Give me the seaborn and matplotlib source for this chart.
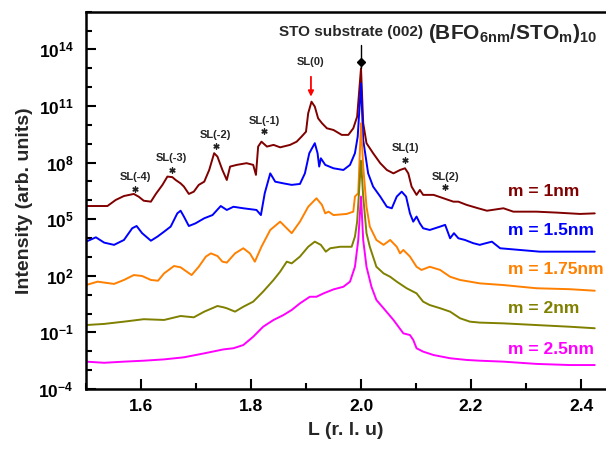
import numpy as np
import pandas as pd
import matplotlib
matplotlib.use("Agg")
import matplotlib.pyplot as plt
from matplotlib.ticker import FixedLocator, NullFormatter
import seaborn as sns

# ---------------- data (L in r.l.u., log10 intensity) ----------------
L_m1 = [1.502, 1.539, 1.554, 1.569, 1.587, 1.596, 1.605, 1.618, 1.627, 1.639, 1.648, 1.657, 1.663,
        1.672, 1.678, 1.687, 1.696, 1.705, 1.715, 1.724, 1.733, 1.739, 1.748, 1.756, 1.762, 1.774,
        1.792, 1.804, 1.809, 1.813, 1.819, 1.829, 1.841, 1.853, 1.871, 1.883, 1.892, 1.900, 1.904,
        1.910, 1.916, 1.922, 1.929, 1.938, 1.950, 1.965, 1.977, 1.986, 1.993, 2.000, 2.004, 2.010,
        2.022, 2.035, 2.047, 2.059, 2.071, 2.080, 2.086, 2.092, 2.101, 2.107, 2.113, 2.132, 2.150,
        2.168, 2.177, 2.192, 2.213, 2.229, 2.259, 2.277, 2.319, 2.356, 2.398, 2.425]
logI_m1 = [5.70, 5.70, 6.02, 6.23, 6.34, 6.19, 5.98, 5.93, 6.34, 6.82, 7.26, 7.23, 7.08,
           6.90, 6.73, 6.34, 6.46, 6.82, 6.99, 7.61, 8.50, 8.32, 7.61, 7.08, 7.79, 7.88,
           7.97, 7.88, 7.35, 8.85, 9.11, 8.85, 8.94, 8.81, 8.94, 9.11, 9.38, 9.64, 10.62,
           11.23, 10.97, 10.35, 10.09, 9.82, 9.73, 9.47, 9.47, 9.82, 10.44, 13.00, 10.09, 9.03,
           8.50, 7.97, 7.61, 7.43, 7.61, 7.70, 7.43, 6.73, 6.29, 6.55, 6.29, 6.29, 6.11,
           5.93, 5.93, 5.76, 5.58, 5.45, 5.58, 5.40, 5.40, 5.35, 5.28, 5.31]

L_m15 = [1.500, 1.518, 1.533, 1.551, 1.569, 1.584, 1.592, 1.602, 1.618, 1.630, 1.642, 1.654, 1.666,
         1.672, 1.678, 1.687, 1.699, 1.715, 1.730, 1.745, 1.756, 1.768, 1.786, 1.810, 1.818, 1.825,
         1.835, 1.844, 1.859, 1.874, 1.889, 1.898, 1.906, 1.916, 1.921, 1.924, 1.927, 1.935, 1.950,
         1.968, 1.980, 1.989, 1.994, 2.000, 2.004, 2.013, 2.022, 2.035, 2.047, 2.056, 2.065, 2.074,
         2.082, 2.089, 2.095, 2.101, 2.107, 2.113, 2.125, 2.144, 2.153, 2.162, 2.169, 2.177, 2.189,
         2.204, 2.216, 2.222, 2.238, 2.253, 2.289, 2.325, 2.380, 2.425]
logI_m15 = [3.81, 4.04, 3.76, 3.64, 3.90, 4.52, 4.64, 4.26, 3.86, 4.08, 4.34, 4.61, 5.31,
            5.45, 5.14, 4.64, 4.78, 5.05, 5.22, 5.70, 5.49, 5.66, 5.58, 5.49, 5.22, 6.38,
            7.43, 6.99, 6.90, 6.82, 6.87, 7.43, 8.50, 9.03, 8.50, 7.79, 8.23, 7.88, 7.70,
            7.61, 7.88, 8.50, 9.38, 12.20, 9.20, 7.43, 6.73, 6.20, 5.66, 5.58, 6.20, 6.46,
            6.20, 5.31, 4.87, 5.14, 4.78, 4.52, 4.43, 4.61, 4.70, 3.99, 4.26, 3.99, 3.90,
            3.73, 3.64, 3.69, 3.81, 3.46, 3.37, 3.28, 3.28, 3.28]

L_m175 = [1.500, 1.521, 1.551, 1.569, 1.587, 1.602, 1.618, 1.631, 1.642, 1.660, 1.672, 1.692, 1.705,
          1.718, 1.727, 1.739, 1.748, 1.756, 1.771, 1.786, 1.798, 1.807, 1.819, 1.835, 1.853, 1.865,
          1.874, 1.889, 1.904, 1.919, 1.929, 1.935, 1.941, 1.950, 1.974, 1.986, 1.989, 1.995, 2.000,
          2.004, 2.010, 2.016, 2.028, 2.041, 2.053, 2.065, 2.071, 2.077, 2.089, 2.101, 2.110, 2.125,
          2.144, 2.162, 2.180, 2.216, 2.259, 2.319, 2.380, 2.425]
logI_m175 = [1.51, 1.69, 1.57, 1.78, 2.04, 1.99, 1.78, 1.74, 2.13, 2.52, 2.45, 2.04, 2.48,
             3.02, 3.19, 3.05, 2.75, 2.70, 3.19, 3.46, 3.19, 2.75, 3.54, 4.43, 4.87, 4.52,
             4.26, 4.87, 5.66, 6.11, 5.76, 5.31, 5.40, 5.22, 5.28, 5.40, 6.20, 6.38, 10.09,
             7.79, 5.66, 4.61, 3.90, 3.64, 3.90, 3.54, 3.19, 3.37, 3.02, 2.48, 2.31, 2.48,
             2.31, 1.95, 1.78, 1.60, 1.51, 1.34, 1.29, 1.21]

L_m2 = [1.500, 1.533, 1.569, 1.605, 1.642, 1.672, 1.696, 1.715, 1.739, 1.750, 1.756, 1.771, 1.786,
        1.804, 1.822, 1.841, 1.853, 1.865, 1.874, 1.889, 1.904, 1.916, 1.927, 1.936, 1.944, 1.962,
        1.983, 1.989, 1.993, 2.000, 2.004, 2.010, 2.016, 2.028, 2.041, 2.053, 2.065, 2.083, 2.101,
        2.113, 2.125, 2.144, 2.162, 2.180, 2.198, 2.216, 2.259, 2.319, 2.380, 2.425]
logI_m2 = [-0.61, -0.55, -0.43, -0.30, -0.34, -0.13, -0.20, 0.10, 0.40, 0.33, 0.28, 0.10, 0.36,
           0.63, 1.16, 1.78, 2.22, 2.75, 2.66, 3.02, 3.54, 3.81, 3.64, 3.28, 3.46, 3.54,
           3.54, 4.08, 4.87, 8.10, 6.20, 4.26, 3.54, 2.48, 2.13, 1.95, 1.69, 1.34, 1.07,
           0.63, 0.45, 0.28, 0.10, -0.25, -0.43, -0.48, -0.52, -0.61, -0.70, -0.78]

L_m25 = [1.500, 1.533, 1.569, 1.605, 1.642, 1.678, 1.715, 1.750, 1.768, 1.786, 1.804, 1.822, 1.841,
         1.859, 1.874, 1.889, 1.907, 1.919, 1.932, 1.950, 1.968, 1.980, 1.989, 1.995, 2.000, 2.004,
         2.010, 2.019, 2.028, 2.041, 2.059, 2.077, 2.089, 2.095, 2.101, 2.113, 2.132, 2.162, 2.192,
         2.216, 2.259, 2.319, 2.380, 2.425]
logI_m25 = [-2.55, -2.61, -2.55, -2.50, -2.43, -2.32, -2.11, -1.90, -1.84, -1.67, -1.23, -0.70, -0.34,
            -0.08, 0.19, 0.54, 0.89, 0.89, 1.07, 1.28, 1.42, 1.69, 2.48, 3.90, 6.20, 3.90,
            2.48, 1.42, 0.72, 0.28, -0.34, -1.05, -1.14, -1.40, -1.84, -2.02, -2.20, -2.37, -2.46,
            -2.50, -2.55, -2.67, -2.73, -2.73]

series_names = ["m = 1nm", "m = 1.5nm", "m = 1.75nm", "m = 2nm", "m = 2.5nm"]
series_colors = ["#800000", "#0000FF", "#FF8000", "#808000", "#FF00FF"]
series_L = [L_m1, L_m15, L_m175, L_m2, L_m25]
series_logI = [logI_m1, logI_m15, logI_m175, logI_m2, logI_m25]
label_logy = [6.46, 4.38, 2.31, 0.29, -1.93]   # vertical position of the m-labels (log10)

xticks_major = [1.6, 1.8, 2.0, 2.2, 2.4]
xticks_minor = [1.5, 1.7, 1.9, 2.1, 2.3]
ytick_exp = [-4, -1, 2, 5, 8, 11, 14]

sl_labels = ["SL(-4)", "SL(-3)", "SL(-2)", "SL(-1)", "SL(1)", "SL(2)"]
sl_L = [1.589, 1.656, 1.736, 1.824, 2.080, 2.153]
sl_text_logy = [7.24, 8.25, 9.47, 10.21, 8.78, 7.24]
sl_star_logy = [6.62, 7.62, 8.90, 9.69, 8.16, 6.72]

# ---------------- build table ----------------
frames = []
for name, Ls, ys in zip(series_names, series_L, series_logI):
    frames.append(pd.DataFrame({"L": Ls, "I": np.power(10.0, ys), "sample": name}))
df = pd.concat(frames, ignore_index=True)

sns.set_theme(style="ticks")
plt.rcParams["font.family"] = ["Liberation Sans", "DejaVu Sans"]
plt.rcParams["font.weight"] = "bold"
plt.rcParams["mathtext.fontset"] = "custom"
plt.rcParams["mathtext.rm"] = "Liberation Sans:bold"
plt.rcParams["mathtext.bf"] = "Liberation Sans:bold"
plt.rcParams["mathtext.it"] = "Liberation Sans:bold:italic"
plt.rcParams["mathtext.default"] = "rm"

fig = plt.figure(figsize=(6.06, 4.5), dpi=100)
ax = fig.add_axes([86 / 606, 61 / 450, 520 / 606, 377.3 / 450])

sns.lineplot(data=df, x="L", y="I", hue="sample", palette=dict(zip(series_names, series_colors)),
             hue_order=series_names, estimator=None, sort=False, legend=False, linewidth=1.4, ax=ax)

ax.set_yscale("log")
ax.set_xlim(1.5, 1.5 + 520 / 550)
ax.set_ylim(1e-4, 1e16)

ax.set_yticks([10.0 ** e for e in ytick_exp])
ax.set_yticklabels([r"$\mathbf{10^{%d}}$" % e for e in ytick_exp])
ax.yaxis.set_minor_locator(FixedLocator([10.0 ** e for e in range(-4, 17) if e not in ytick_exp]))
ax.yaxis.set_minor_formatter(NullFormatter())
ax.set_xticks(xticks_major)
ax.set_xticklabels(["%.1f" % v for v in xticks_major])
ax.xaxis.set_minor_locator(FixedLocator(xticks_minor))

ax.tick_params(which="both", direction="in", top=False, right=False, width=1.5, colors="black")
ax.tick_params(which="major", length=7, labelsize=12.5)
ax.tick_params(which="minor", length=4)
ax.tick_params(axis="y", pad=9)
ax.tick_params(axis="x", pad=7)
for lab in ax.get_xticklabels() + ax.get_yticklabels():
    lab.set_fontweight("bold")
for s in ["left", "bottom", "top"]:
    ax.spines[s].set_linewidth(1.8)
    ax.spines[s].set_color("black")
ax.spines["right"].set_visible(False)

ax.set_xlabel("L (r. l. u)", fontsize=14, fontweight="bold", labelpad=6)
ax.set_ylabel("Intensity (arb. units)", fontsize=14, fontweight="bold", labelpad=4)

# series labels
for name, col, ly in zip(series_names, series_colors, label_logy):
    ax.text(2.267, 10.0 ** ly, name, color=col, fontsize=12.5, fontweight="bold",
            ha="left", va="center")

# SL annotations
for lab, lx, ty in zip(sl_labels, sl_L, sl_text_logy):
    ax.text(lx, 10.0 ** ty, lab, fontsize=8, fontweight="bold", ha="center", va="center")
ax.scatter(sl_L, [10.0 ** v for v in sl_star_logy], marker=(6, 2, 0), s=14,
           color="#222222", linewidths=1.0, zorder=5)

ax.text(1.909, 10.0 ** 13.34, "SL(0)", fontsize=8, fontweight="bold", ha="center", va="center")
ax.annotate("", xy=(1.909, 10.0 ** 11.35), xytext=(1.909, 10.0 ** 12.7),
            arrowprops=dict(arrowstyle="-|>", color="red", lw=1.3, mutation_scale=8))

# substrate marker
ax.plot([2.0, 2.0], [10.0 ** 13.0, 10.0 ** 14.25], color="black", lw=1.0)
ax.plot([2.0], [10.0 ** 13.32], marker="D", color="black", markersize=4)

ax.text(2.113, 10.0 ** 14.72, "STO substrate (002)", fontsize=11, fontweight="bold",
        ha="right", va="baseline")
ax.text(2.121, 10.0 ** 14.56, r"(BFO$_{\mathrm{6nm}}$/STO$_{\mathrm{m}}$)$_{\mathrm{10}}$",
        fontsize=15, fontweight="bold", ha="left", va="baseline")

fig.savefig("out.png", dpi=100)
